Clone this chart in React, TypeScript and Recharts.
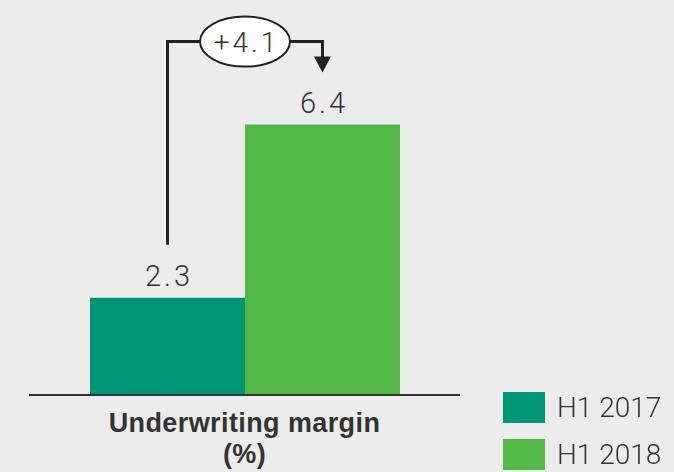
import React from 'react';
import { BarChart, Bar, XAxis, YAxis, LabelList } from 'recharts';

const categories = ['Underwriting margin (%)'];
const categoryLines = [['Underwriting margin', '(%)']];
const seriesNames = ['H1 2017', 'H1 2018'];
const seriesH1_2017 = [2.3];
const seriesH1_2018 = [6.4];
const changeLabel = '+4.1';
const colors = ['#009677', '#52b848'];

const data = categories.map((c, i) => ({
  name: c,
  a: seriesH1_2017[i],
  b: seriesH1_2018[i],
}));

const numFont = 'Roboto, "Noto Sans", sans-serif';
const ink = '#333333';

const ValueLabel = (props: any) => {
  const { x, y, width, value } = props;
  return (
    <text
      x={x + width / 2 + 1.5}
      y={y - 12}
      textAnchor="middle"
      fontFamily={numFont}
      fontWeight={300}
      fontSize={29}
      letterSpacing={3}
      fill={ink}
    >
      {String(value)}
    </text>
  );
};

const BracketLabel = (props: any) => {
  const { x, y, width, height, value, index } = props;
  const pxPerUnit = height / value;
  const prev = seriesH1_2017[index];
  const prevTop = y + (value - prev) * pxPerUnit;
  const leftX = x - width / 2;
  const rightX = x + width / 2;
  const topY = y - 83;
  const tipY = y - 52;
  const cx = x;
  const rx = 45;
  const ry = 25;
  return (
    <g>
      <polyline
        points={`${leftX},${prevTop - 53} ${leftX},${topY} ${cx - rx},${topY}`}
        fill="none"
        stroke="#222"
        strokeWidth={3}
      />
      <polyline
        points={`${cx + rx},${topY} ${rightX},${topY} ${rightX},${tipY - 14}`}
        fill="none"
        stroke="#222"
        strokeWidth={3}
      />
      <polygon points={`${rightX - 8.5},${tipY - 16} ${rightX + 8.5},${tipY - 16} ${rightX},${tipY}`} fill="#222" />
      <ellipse cx={cx} cy={topY} rx={rx} ry={ry} fill="#ffffff" stroke="#222" strokeWidth={2} />
      <text
        x={cx + 1.5}
        y={topY + 10}
        textAnchor="middle"
        fontFamily={numFont}
        fontWeight={300}
        fontSize={28}
        letterSpacing={3}
        fill={ink}
      >
        {changeLabel}
      </text>
    </g>
  );
};

const CategoryTick = (props: any) => {
  const { x, y, index } = props;
  const lines = categoryLines[index] || [];
  return (
    <g>
      {lines.map((l, i) => (
        <text
          key={i}
          x={x}
          y={y + 37 + i * 31}
          textAnchor="middle"
          fontFamily='"Liberation Sans", Arial, sans-serif'
          fontWeight={700}
          fontSize={27}
          letterSpacing={0.4}
          fill={ink}
        >
          {l}
        </text>
      ))}
    </g>
  );
};

const LegendBox = () => (
  <div style={{ position: 'absolute', left: 503, top: 392, display: 'flex', flexDirection: 'column' }}>
    {seriesNames.map((n, i) => (
      <div key={n} style={{ display: 'flex', alignItems: 'center', height: 31, marginBottom: 16 }}>
        <div style={{ width: 42, height: 31, background: colors[i] }} />
        <span
          style={{
            marginLeft: 12,
            fontFamily: numFont,
            fontWeight: 300,
            fontSize: 28,
            color: ink,
            lineHeight: '31px',
            whiteSpace: 'nowrap',
          }}
        >
          {n}
        </span>
      </div>
    ))}
  </div>
);

export default function App() {
  return (
    <div style={{ position: 'fixed', left: 0, top: 0, width: 674, height: 472, background: '#ececec' }}>
      <BarChart
        width={674}
        height={472}
        data={data}
        margin={{ top: 57, right: 214, bottom: 0, left: 29 }}
        barCategoryGap={61}
        barGap={0}
      >
        <XAxis
          dataKey="name"
          axisLine={{ stroke: '#333', strokeWidth: 2 }}
          tickLine={false}
          tickSize={0}
          tickMargin={0}
          height={77}
          tick={<CategoryTick />}
          interval={0}
        />
        <YAxis hide domain={[0, 8]} />
        <Bar dataKey="a" name={seriesNames[0]} fill={colors[0]} isAnimationActive={false}>
          <LabelList dataKey="a" content={<ValueLabel />} />
        </Bar>
        <Bar dataKey="b" name={seriesNames[1]} fill={colors[1]} isAnimationActive={false}>
          <LabelList dataKey="b" content={<ValueLabel />} />
          <LabelList dataKey="b" content={<BracketLabel />} />
        </Bar>
      </BarChart>
      <LegendBox />
    </div>
  );
}
